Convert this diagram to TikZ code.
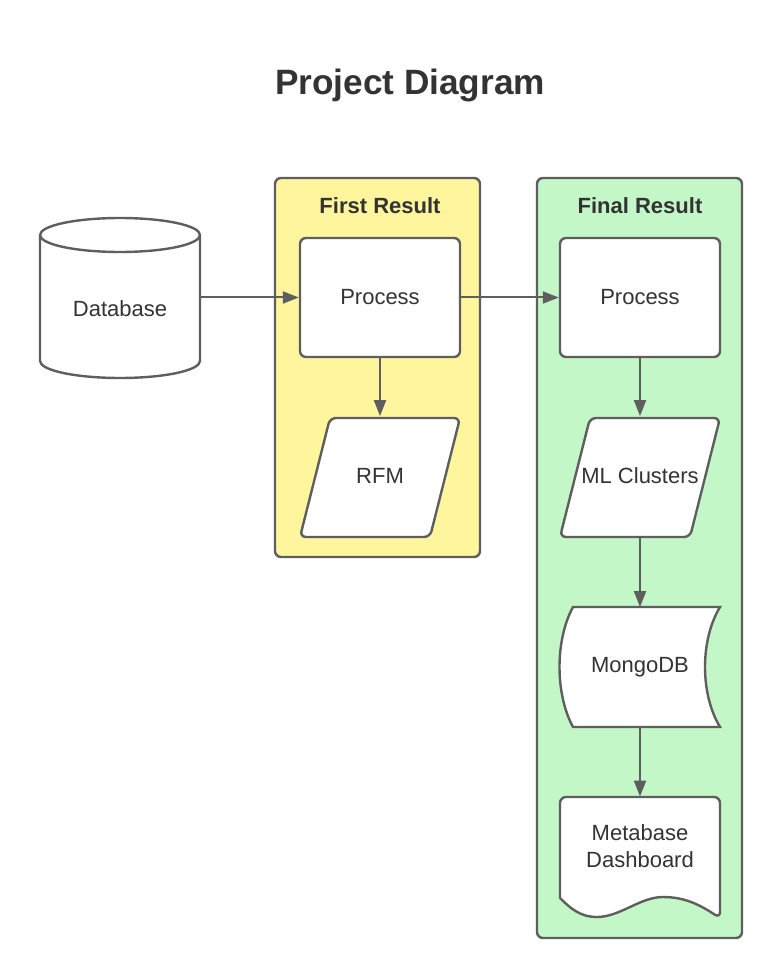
\documentclass[tikz,border=0pt]{standalone}
\usepackage{fontspec}
\setmainfont{Liberation Sans}
\usetikzlibrary{arrows.meta}

\definecolor{linegray}{HTML}{5E5E5E}
\definecolor{textgray}{HTML}{333333}
\definecolor{firstfill}{HTML}{FFF59D}
\definecolor{finalfill}{HTML}{C3F7C8}

\tikzset{
  shape line/.style={draw=linegray, line width=1.2pt, fill=white},
  group box/.style={draw=linegray, line width=1.2pt, rounded corners=3pt},
  box label/.style={text=textgray, font=\fontsize{11}{13.5}\selectfont},
  group title/.style={text=textgray, font=\fontsize{11}{13}\selectfont\bfseries},
  process box/.style={shape line, box label, rectangle, rounded corners=3pt,
    minimum width=80pt, minimum height=59.5pt},
  shape area/.style={box label, minimum width=80pt, minimum height=59.5pt},
  flow/.style={draw=linegray, line width=1pt, -{Triangle[length=8pt,width=6pt]}},
}

\begin{document}
\begin{tikzpicture}[x=0.5pt,y=0.5pt]
        \useasboundingbox (0,0) rectangle (782,-978);

        % Title
        \node[text=textgray, font=\fontsize{17.6}{20}\selectfont\bfseries] (title) at (410,-85) {Project Diagram};

        % Group boxes
        \draw[group box, fill=firstfill] (275,-178) rectangle (480,-557);
        \node[group title] (firsttitle) at (380,-206) {First Result};

        \draw[group box, fill=finalfill] (537,-178) rectangle (742,-938);
        \node[group title] (finaltitle) at (640,-206) {Final Result};

        % Database
        \node[minimum width=80pt, minimum height=80pt] (db) at (120,-297.5) {};
        \draw[shape line] (40,-235) -- (40,-361)
            arc[start angle=180, end angle=360, x radius=40pt, y radius=8.5pt]
            -- (200,-235)
            arc[start angle=0, end angle=180, x radius=40pt, y radius=8.5pt] -- cycle;
        \draw[shape line, fill=none] (40,-235)
            arc[start angle=180, end angle=360, x radius=40pt, y radius=8.5pt];
        \node[box label] (dbtext) at (120,-309) {Database};

        % First result
        \node[process box] (p1) at (380,-297.5) {Process};

        \draw[shape line, rounded corners=3pt] (330,-418) -- (460,-418) -- (430,-537) -- (300,-537) -- cycle;
        \node[shape area] (rfm) at (380,-476) {RFM};

        % Final result
        \node[process box] (p2) at (640,-297.5) {Process};

        \draw[shape line, rounded corners=3pt] (590,-418) -- (720,-418) -- (690,-537) -- (560,-537) -- cycle;
        \node[shape area] (ml) at (640,-476) {ML Clusters};

        \draw[shape line] (573,-607) -- (720,-607)
            .. controls (700,-640) and (700,-694) .. (720,-727)
            -- (573,-727)
            .. controls (555,-694) and (555,-640) .. (573,-607) -- cycle;
        \node[shape area] (mongo) at (640,-667) {MongoDB};

        \draw[shape line] {[rounded corners=3pt] (560,-898) -- (560,-797) -- (720,-797) -- (720,-918)}
            .. controls (700,-905) and (685,-897) .. (663,-897)
            .. controls (640,-897) and (620,-917) .. (597,-917)
            .. controls (580,-917) and (570,-908) .. (560,-898) -- cycle;
        \node[box label, align=center, minimum width=80pt, minimum height=49.5pt] (dash) at (640,-846.5) {Metabase\\Dashboard};

        % Connections
        \draw[flow] (db.east) -- (p1.west);
        \draw[flow] (p1.east) -- (p2.west);
        \draw[flow] (p1.south) -- (rfm.north);
        \draw[flow] (p2.south) -- (ml.north);
        \draw[flow] (ml.south) -- (mongo.north);
        \draw[flow] (mongo.south) -- (dash.north);
\end{tikzpicture}
\end{document}
